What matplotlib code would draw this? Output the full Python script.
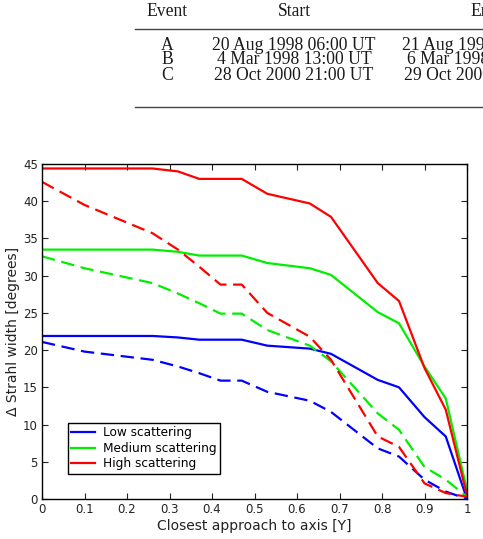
import matplotlib
matplotlib.use("Agg")
import matplotlib.pyplot as plt

# closest approach to axis [Y]
x = [0, 0.1, 0.26, 0.32, 0.37, 0.42, 0.47, 0.53, 0.63, 0.68, 0.79, 0.84, 0.9, 0.95, 1.0]

# solid lines
low_solid = [21.9, 21.9, 21.9, 21.7, 21.4, 21.4, 21.4, 20.6, 20.2, 19.5, 16.0, 15.0, 11.0, 8.4, 0.0]
med_solid = [33.5, 33.5, 33.5, 33.2, 32.7, 32.7, 32.7, 31.7, 31.0, 30.1, 25.1, 23.6, 17.8, 13.5, 1.2]
high_solid = [44.4, 44.4, 44.4, 44.0, 43.0, 43.0, 43.0, 41.0, 39.7, 37.9, 29.0, 26.6, 17.6, 12.0, 0.5]

# dashed lines
low_dash = [21.1, 19.8, 18.7, 17.8, 16.9, 15.9, 15.9, 14.4, 13.2, 11.7, 6.8, 5.7, 2.6, 1.0, 0.0]
med_dash = [32.6, 31.0, 29.0, 27.6, 26.3, 24.9, 24.9, 22.7, 20.6, 18.5, 11.5, 9.3, 4.3, 2.6, 0.3]
high_dash = [42.6, 39.5, 35.7, 33.5, 31.2, 28.8, 28.8, 25.0, 21.8, 18.7, 8.4, 7.0, 2.1, 0.8, 0.3]

labels = ["Low scattering", "Medium scattering", "High scattering"]
colors = ["#0000ff", "#00ee00", "#ff0000"]

# table above the chart (the End column runs off the page edge, as in the source)
tab_cols = ["Event", "Start", "End"]
tab_event = ["A", "B", "C"]
tab_start = ["20 Aug 1998 06:00 UT", "4 Mar 1998 13:00 UT", "28 Oct 2000 21:00 UT"]
tab_end = ["21 Aug 1998", "6 Mar 1998", "29 Oct 2000"]

W, H = 483, 539
fig = plt.figure(figsize=(W / 100, H / 100), dpi=100)

serif = "Liberation Serif"
fs = 12.7
kw = dict(va="center", fontsize=fs, family=serif, color="#1a1a1a")
fig.text(167 / W, 1 - 11 / H, tab_cols[0], ha="center", **kw)
fig.text(294 / W, 1 - 11 / H, tab_cols[1], ha="center", **kw)
fig.text(470 / W, 1 - 11 / H, tab_cols[2], ha="left", **kw)
end_x = [402, 407, 404]
for i in range(3):
    yy = 45 + 15 * i
    fig.text(167 / W, 1 - yy / H, tab_event[i], ha="center", **kw)
    fig.text(294 / W, 1 - yy / H, tab_start[i], ha="center", **kw)
    fig.text(end_x[i] / W, 1 - yy / H, tab_end[i], ha="left", **kw)
for yy in [29, 107]:
    fig.add_artist(plt.Line2D([135 / W, 1.0], [1 - yy / H, 1 - yy / H], color="#444444", lw=1.0,
                              transform=fig.transFigure))

ax = fig.add_axes([42 / W, 1 - 499 / H, 425 / W, 335 / H])

for ys, c, lab in zip([low_solid, med_solid, high_solid], colors, labels):
    ax.plot(x, ys, color=c, lw=1.6, label=lab)
for ys, c in zip([low_dash, med_dash, high_dash], colors):
    ax.plot(x, ys, color=c, lw=1.6, linestyle=(0, (6, 3)))

ax.set_xlim(0, 1)
ax.set_ylim(0, 45)
ax.set_xticks([0, 0.1, 0.2, 0.3, 0.4, 0.5, 0.6, 0.7, 0.8, 0.9, 1])
ax.set_xticklabels(["0", "0.1", "0.2", "0.3", "0.4", "0.5", "0.6", "0.7", "0.8", "0.9", "1"])
ax.set_yticks(range(0, 46, 5))
ax.tick_params(direction="in", top=True, right=True, length=4, labelsize=8.5, colors="#222222",
               pad=3)
for s in ax.spines.values():
    s.set_linewidth(1.0)
    s.set_color("black")

ax.set_xlabel("Closest approach to axis [Y]", fontsize=10, color="#222222", labelpad=2)
ax.set_ylabel("\u0394 Strahl width [degrees]", fontsize=10, color="#222222", labelpad=2)

leg = ax.legend(loc="lower left", bbox_to_anchor=(0.06, 0.075), fontsize=8.7, fancybox=False,
                framealpha=1, edgecolor="black", handlelength=2.0, borderpad=0.3,
                labelspacing=0.2, handletextpad=0.6, borderaxespad=0)
leg.get_frame().set_linewidth(1.0)

fig.savefig("out.png", dpi=100)
